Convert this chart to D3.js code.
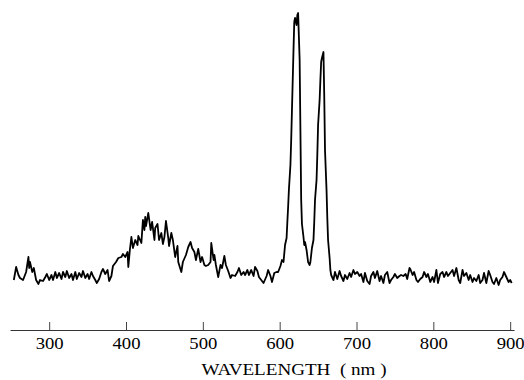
<!DOCTYPE html>
<html>
<head>
<meta charset="utf-8">
<script src="https://cdn.jsdelivr.net/npm/d3@7"></script>
<style>
  html, body { margin: 0; padding: 0; background: #fff; }
  svg { display: block; }
</style>
</head>
<body>
<figure id="spectrum" style="margin:0"></figure>
<script>
// wavelength (nm) and emission intensity (a.u.)
const wavelength = [
  254, 257, 260, 262, 266, 270, 273, 274, 275, 278, 280, 283, 286, 288, 292, 295, 297, 300,
  303, 305, 308, 310, 313, 316, 318, 321, 323, 326, 329, 331, 334, 336, 339, 342, 344, 347,
  350, 352, 355, 357, 360, 362, 365, 368, 370, 373, 376, 378, 381, 383,
  387, 390, 394, 396, 399, 402, 403, 405, 407, 409, 412, 415, 416, 420, 422, 424, 425, 426,
  429, 432, 434, 437, 438, 441, 443, 446, 448, 450, 452, 455, 456, 459, 461, 464, 467, 468,
  472, 474, 478, 481, 484, 486, 489, 491, 494, 497, 499, 502, 504, 507, 510, 511, 514, 515,
  517, 520, 523, 525, 528, 530, 533, 536, 538, 542, 545, 547, 550, 553, 555, 558, 560, 563,
  566, 568, 571, 573, 576, 579, 583, 585, 588, 590, 593, 596, 598, 601, 603, 605, 607, 609,
  610, 611, 612, 614, 615, 616, 618, 619, 620, 622, 623, 624, 626, 627, 628, 629, 631, 632,
  633, 635, 636, 637, 639, 640, 641, 642, 644, 645, 646, 648, 649, 650, 652, 653, 654, 655,
  657, 658, 659, 661, 662, 663, 665, 666, 667, 670, 672, 675, 678, 680, 683, 685, 688, 691,
  693, 696, 698, 701, 704, 706, 709, 711, 714, 717, 719, 722, 724, 727, 730, 732, 735, 737,
  740, 743, 745, 748, 750, 753, 756, 758, 761, 764, 766, 769, 770, 773, 775, 778, 780, 783,
  786, 788, 791, 793, 796, 799, 801, 804, 806, 809, 812, 814, 817, 819, 822, 825, 827, 830,
  833, 835, 838, 840, 843, 846, 848, 851, 853, 856, 859, 861, 864, 866, 869, 872, 874, 877,
  879, 882, 885, 887, 890, 892, 895, 898, 900, 902
];
const intensity = [
  10, 23, 15, 12, 10, 18, 33, 22, 28, 18, 22, 10, 6, 10, 9, 13, 16, 10,
  15, 10, 18, 12, 17, 11, 18, 13, 19, 12, 16, 10, 18, 11, 17, 13, 19, 12,
  16, 11, 18, 14, 10, 7, 11, 18, 21, 16, 20, 9, 14, 24,
  28, 32, 33, 36, 33, 38, 23, 40, 53, 42, 50, 45, 54, 47, 70, 60, 73, 64,
  77, 60, 68, 50, 62, 66, 50, 57, 46, 53, 69, 52, 44, 57, 50, 33, 44, 28,
  18, 28, 35, 43, 48, 42, 38, 30, 41, 28, 33, 25, 24, 25, 28, 47, 30, 35,
  25, 13, 25, 22, 34, 25, 19, 12, 15, 14, 18, 22, 15, 18, 15, 20, 15, 20,
  14, 23, 19, 13, 10, 7, 14, 20, 14, 8, 17, 18, 18, 24, 30, 28, 45, 52,
  68, 83, 100, 125, 150, 180, 240, 268, 272, 265, 275, 277, 230, 160, 90, 66, 53, 45,
  48, 40, 34, 28, 25, 28, 35, 42, 50, 68, 90, 110, 135, 165, 190, 210, 228, 232,
  238, 195, 140, 100, 72, 50, 32, 20, 15, 10, 18, 11, 19, 14, 9, 15, 11, 17,
  13, 20, 16, 18, 14, 16, 8, 17, 9, 6, 14, 18, 12, 19, 9, 14, 7, 15,
  18, 7, 10, 13, 16, 12, 14, 15, 14, 16, 11, 22, 21, 15, 18, 10, 8, 11,
  13, 18, 13, 16, 8, 13, 8, 20, 7, 16, 18, 13, 18, 14, 17, 20, 14, 22,
  10, 7, 20, 14, 17, 10, 15, 8, 12, 9, 15, 7, 10, 17, 7, 19, 15, 8,
  6, 12, 5, 10, 13, 18, 13, 8, 10, 7
];
const tickValues = [300, 400, 500, 600, 700, 800, 900];
const axisTitle = "WAVELENGTH  ( nm )";

const width = 524, height = 380;
const axisY = 330;

const svg = d3.select("figure#spectrum")
  .append("svg")
  .attr("width", width)
  .attr("height", height);

const x = d3.scaleLinear().domain([249, 905]).range([10, 514]);
const y = d3.scaleLinear().domain([0, 280]).range([290, 10]);

const data = wavelength.map((w, i) => ({ w: w, v: intensity[i] }));

const line = d3.line()
  .x(d => x(d.w))
  .y(d => y(d.v));

svg.append("path")
  .datum(data)
  .attr("d", line)
  .attr("fill", "none")
  .attr("stroke", "#000")
  .attr("stroke-width", 1.8)
  .attr("stroke-linejoin", "round");

// x axis, ticks point up into the plot
const axis = svg.append("g")
  .attr("transform", "translate(0," + axisY + ")")
  .call(d3.axisBottom(x)
    .tickValues(tickValues)
    .tickFormat(d3.format("d"))
    .tickSizeInner(-8)
    .tickSizeOuter(0)
    .tickPadding(8));

axis.select(".domain").attr("stroke", "#333").attr("stroke-width", 1.2);
axis.selectAll(".tick line").attr("stroke", "#444").attr("stroke-width", 1);
axis.selectAll(".tick text")
  .attr("fill", "#000")
  .attr("textLength", 28)
  .attr("lengthAdjust", "spacingAndGlyphs")
  .style("font-family", "'Liberation Serif', 'Times New Roman', serif")
  .style("font-size", "16px");

svg.append("text")
  .attr("x", 294)
  .attr("y", 375)
  .attr("text-anchor", "middle")
  .attr("textLength", 185)
  .attr("lengthAdjust", "spacingAndGlyphs")
  .style("white-space", "pre")
  .style("font-family", "'Liberation Serif', 'Times New Roman', serif")
  .style("font-size", "16px")
  .attr("fill", "#000")
  .text(axisTitle);
</script>
</body>
</html>
